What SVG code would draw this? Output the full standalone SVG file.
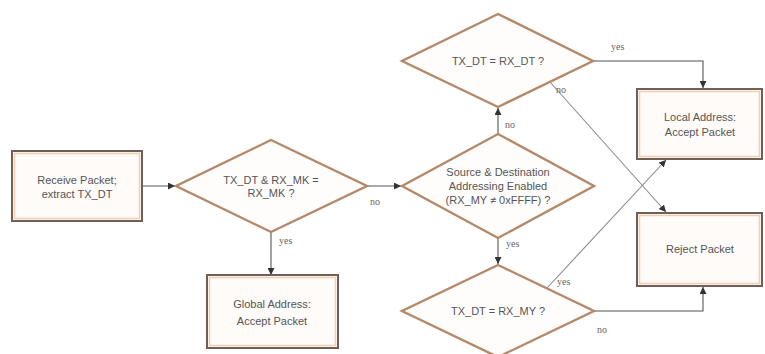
<svg xmlns="http://www.w3.org/2000/svg" width="765" height="354" viewBox="0 0 765 354">
<defs>
<style>
.box{fill:#fffbf8;stroke:#6e5f58;stroke-width:2}
.boxin{fill:none;stroke:#f3cdb0;stroke-width:1.5}
.dia{fill:#fffdfb;stroke:#b4896a;stroke-width:2.4;stroke-linejoin:miter}
.t{font-family:"Liberation Sans",Arial,sans-serif;font-size:11px;fill:#555;text-anchor:middle}
.lbl{font-family:"Liberation Serif","Times New Roman",serif;font-size:10px;fill:#666}
.c{fill:none;stroke:#555;stroke-width:1.1}
.d{fill:none;stroke:#8a8a8a;stroke-width:1.1}
</style>
<marker id="ah" viewBox="0 0 8 8" refX="8" refY="4" markerWidth="7" markerHeight="7" markerUnits="userSpaceOnUse" orient="auto">
<path d="M0,0 L8,4 L0,8 z" fill="#333"/>
</marker>
</defs>
<rect width="765" height="354" fill="#fff"/>

<g id="connectors">
<path class="c" d="M142,186 H175" marker-end="url(#ah)"/>
<path class="c" d="M367,186 H401" marker-end="url(#ah)"/>
<path class="c" d="M271,232 V275" marker-end="url(#ah)"/>
<path class="c" d="M498,134 V108" marker-end="url(#ah)"/>
<path class="c" d="M498,238 V264" marker-end="url(#ah)"/>
<path class="c" d="M593,61 H703 V88" marker-end="url(#ah)"/>
<path class="c" d="M594,311 H703 V287" marker-end="url(#ah)"/>
<path class="d" d="M550,82 L666,212" marker-end="url(#ah)"/>
<path class="d" d="M547,288 L666,160" marker-end="url(#ah)"/>
<text class="lbl" x="370" y="205">no</text>
<text class="lbl" x="279" y="244">yes</text>
<text class="lbl" x="505" y="128">no</text>
<text class="lbl" x="506" y="247">yes</text>
<text class="lbl" x="611" y="50">yes</text>
<text class="lbl" x="556" y="93">no</text>
<text class="lbl" x="557" y="285">yes</text>
<text class="lbl" x="597" y="333">no</text>
</g>

<g id="receive">
<rect class="box" x="12" y="151" width="130" height="70"/>
<rect class="boxin" x="14.5" y="153.5" width="125" height="65"/>
<text class="t" x="77" y="184">Receive Packet;</text>
<text class="t" x="77" y="198">extract TX_DT</text>
</g>

<g id="dec-mask">
<polygon class="dia" points="271,140 367,186 271,232 176,186"/>
<text class="t" x="271" y="184">TX_DT &amp; RX_MK =</text>
<text class="t" x="271" y="197">RX_MK ?</text>
</g>

<g id="global">
<rect class="box" x="207" y="275" width="131" height="73"/>
<rect class="boxin" x="209.5" y="277.5" width="126" height="68"/>
<text class="t" x="272" y="308">Global Address:</text>
<text class="t" x="272" y="325">Accept Packet</text>
</g>

<g id="dec-srcdst">
<polygon class="dia" points="498,134 594,186 498,238 402,186"/>
<text class="t" x="498" y="176">Source &amp; Destination</text>
<text class="t" x="498" y="190">Addressing Enabled</text>
<text class="t" x="498" y="204">(RX_MY ≠ 0xFFFF) ?</text>
</g>

<g id="dec-dt">
<polygon class="dia" points="498,14 593,61 498,107 402,61"/>
<text class="t" x="498" y="65">TX_DT = RX_DT ?</text>
</g>

<g id="dec-my">
<polygon class="dia" points="498,265 594,311 498,357 402,311"/>
<text class="t" x="498" y="315">TX_DT = RX_MY ?</text>
</g>

<g id="local">
<rect class="box" x="637" y="89" width="125" height="70"/>
<rect class="boxin" x="639.5" y="91.5" width="120" height="65"/>
<text class="t" x="700" y="121">Local Address:</text>
<text class="t" x="700" y="136">Accept Packet</text>
</g>

<g id="reject">
<rect class="box" x="637" y="213" width="125" height="73"/>
<rect class="boxin" x="639.5" y="215.5" width="120" height="68"/>
<text class="t" x="700" y="253">Reject Packet</text>
</g>
</svg>
